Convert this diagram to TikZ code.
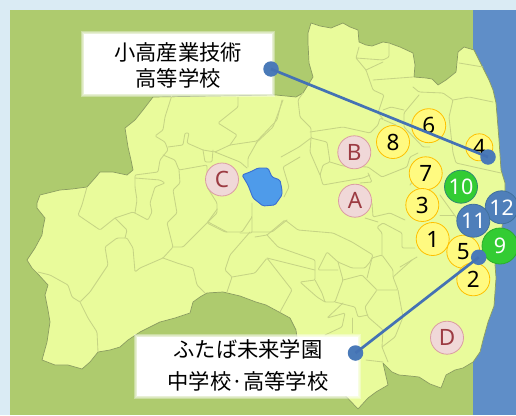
\documentclass[tikz,border=0pt]{standalone}
\usepackage{fontspec}
\setmainfont{Noto Sans}
\newfontfamily\cjkjp{Noto Sans CJK JP}
\definecolor{framec}{HTML}{DAEBF4}
\definecolor{hillc}{HTML}{AECB6E}
\definecolor{landc}{HTML}{E9FB9B}
\definecolor{borderc}{HTML}{C6D485}
\definecolor{coastc}{HTML}{8A9C60}
\definecolor{seac}{HTML}{5F8EC8}
\definecolor{lakec}{HTML}{4E9BEA}
\definecolor{lakeedge}{HTML}{3B6FD0}
\definecolor{yelf}{HTML}{FFFA80}
\definecolor{yele}{HTML}{FFC000}
\definecolor{pinkf}{HTML}{F0D8D8}
\definecolor{pinke}{HTML}{DB9CA3}
\definecolor{pinkt}{HTML}{9C3B42}
\definecolor{grnf}{HTML}{33CC33}
\definecolor{grne}{HTML}{2E8B6E}
\definecolor{bluf}{HTML}{4F7FBA}
\definecolor{blue2}{HTML}{41719C}
\definecolor{leadc}{HTML}{4472B4}
\definecolor{dotc}{HTML}{4A7AB8}
\tikzset{
  distb/.style={draw=borderc,line width=0.85pt,line join=round,line cap=round,rounded corners=1.2pt},
  yelc/.style={circle,draw=yele,fill=yelf,line width=0.8pt,inner sep=0pt,minimum size=33pt,font=\fontsize{22.5}{22.5}\selectfont,text=black},
  pinkc/.style={circle,draw=pinke,fill=pinkf,line width=0.8pt,inner sep=0pt,minimum size=33pt,font=\fontsize{22.5}{22.5}\selectfont,text=pinkt},
  grnc/.style={circle,draw=grne,fill=grnf,line width=0.8pt,inner sep=0pt,minimum size=33pt,font=\fontsize{21.5}{21.5}\selectfont,text=white},
  bluc/.style={circle,draw=blue2,fill=bluf,line width=0.8pt,inner sep=0pt,minimum size=33pt,font=\fontsize{21.5}{21.5}\selectfont,text=white},
  dotn/.style={circle,fill=dotc,inner sep=0pt,minimum size=15.5pt},
  leader/.style={draw=leadc,line width=2.7pt},
  labeltxt/.style={font=\cjkjp\fontsize{21.3}{26}\selectfont,text=black,align=center,inner sep=0pt},
  softbox/.style={fill=white,fill opacity=0.35}
}
\begin{document}
\begin{tikzpicture}[x=1pt,y=-1pt]
\path[use as bounding box] (0,0) rectangle (516,415);
\fill[framec] (0,0) rectangle (516,415);
\fill[hillc] (10,10) rectangle (474,415);
\fill[seac] (473,10) rectangle (516,415);
% land
\draw[fill=landc,draw=coastc,line width=0.7pt,line join=round]
 (42,360)--(55,365)--(68,365)--(82,369)--(90,362)--(98,352)--(110,350)--(120,347)--(128,340)--(140,332)--(150,327)--(160,322)--(175,318)--(190,313)--(193,302)--(200,297)--(207,293)--(223,292)--(240,296)--(256,302)--(266,305)--(279,312)--(290,318)--(296,330)--(298,345)--(340,390)--(358,409)--(368,398)--(376,392)--(388,385)--(383,363)--(392,372)--(399,375)--(410,376)--(419,377)--(430,384)--(441,388)--(446,375)--(455,370)--(463,368)--(473,362)--(480,352)--(483,340)--(488,322)--(494,306)--(496,278)--(495,265)--(500,245)--(505,200)--(505,183)--(501,170)--(499,140)--(496,103)--(493,90)--(489,80)--(483,68)--(478,58)--(474,50)--(464,47)--(458,52)--(457,62)--(456,72)--(446,80)--(438,85)--(432,79)--(426,78)--(414,77)--(415,65)--(413,53)--(400,47)--(389,43)--(383,42)--(372,46)--(366,45)--(359,42)--(358,30)--(350,27)--(343,23)--(331,28)--(320,26)--(311,23)--(308,33)--(308,43)--(309,63)--(313,77)--(303,93)--(296,97)--(276,95)--(153,97)--(143,110)--(135,120)--(125,128)--(128,147)--(131,160)--(133,170)--(127,175)--(113,172)--(100,172)--(95,178)--(87,187)--(72,189)--(60,190)--(48,193)--(40,195)--(37,203)--(37,208)--(45,218)--(43,228)--(42,235)--(35,248)--(27,260)--(32,268)--(37,273)--(48,285)--(45,295)--(48,310)--(50,322)--(47,342)--cycle;
% district borders
\path[distb] (172,95)--(165,117)--(163,130)--(155,136)--(165,142)--(168,150)--(160,160)--(158,172)--(135,175)--(135,187)--(137,200)--(135,213);
\path[distb] (168,147)--(183,145)--(185,133)--(189,133)--(187,143)--(203,150)--(215,152)--(230,145)--(257,141)--(277,120)--(282,100);
\path[distb] (238,97)--(238,107)--(218,123)--(237,135)--(230,145);
\path[distb] (215,152)--(240,162)--(247,168);
\path[distb] (203,150)--(205,162)--(212,162)--(213,150);
\path[distb] (257,142)--(248,158)--(248,167);
\path[distb] (163,155)--(175,160)--(179,170)--(207,165)--(207,187)--(217,203)--(217,213)--(207,223)--(225,232)--(242,232)--(252,217)--(252,203);
\path[distb] (179,170)--(180,183)--(173,190)--(177,213)--(167,223)--(173,247)--(163,258)--(140,268)--(135,272)--(133,248)--(127,238)--(117,238)--(105,247)--(108,265)--(100,277)--(90,292)--(80,302)--(72,297)--(68,285)--(50,275)--(38,272);
\path[distb] (135,178)--(160,180)--(165,183)--(155,187)--(150,203)--(152,212)--(148,220)--(133,212)--(115,218)--(100,230)--(78,215)--(82,205)--(87,187);
\path[distb] (115,218)--(127,230)--(125,238);
\path[distb] (163,258)--(177,263)--(193,268)--(197,285)--(205,293);
\path[distb] (173,247)--(183,247)--(208,222)--(218,208)--(207,223);
\path[distb] (208,222)--(227,232);
\path[distb] (252,217)--(252,233)--(240,233);
\path[distb] (250,232)--(230,255)--(225,270)--(232,277)--(227,292);
\path[distb] (232,277)--(255,273)--(267,258)--(292,290)--(280,312);
\path[distb] (252,232)--(272,232)--(287,220);
\path[distb] (80,302)--(88,318)--(97,332)--(98,352);
\path[distb] (255,237)--(267,235)--(285,220)--(298,230)--(333,233)--(352,242)--(373,255)--(370,262)--(365,268)--(352,268)--(338,262)--(327,252)--(318,270)--(338,270);
\path[distb] (267,235)--(278,247)--(315,260)--(315,280)--(300,282)--(317,297)--(325,302)--(335,302)--(343,280)--(338,262);
\path[distb] (315,280)--(322,293)--(325,302);
\path[distb] (267,258)--(275,260)--(315,270);
\path[distb] (343,280)--(362,275)--(377,290)--(365,307)--(368,317)--(383,330)--(382,347)--(388,362);
\path[distb] (335,302)--(355,307)--(358,317)--(368,315);
\path[distb] (377,290)--(398,290)--(393,277)--(412,260);
\path[distb] (367,278)--(372,258)--(382,255)--(393,270)--(393,277);
\path[distb] (382,255)--(382,233)--(377,227)--(383,223)--(402,233)--(402,248)--(415,248);
\path[distb] (378,222)--(365,218);
\path[distb] (398,290)--(403,317)--(395,337)--(382,347);
\path[distb] (343,303)--(327,318)--(338,315)--(345,313)--(342,327)--(325,335);
\path[distb] (352,318)--(352,333);
\path[distb] (383,362)--(366,360);
\path[distb] (303,93)--(298,100)--(300,117)--(311,128)--(311,138)--(327,142)--(330,162)--(323,165)--(320,175)--(323,185)--(340,182)--(363,178)--(370,175);
\path[distb] (310,132)--(343,127)--(370,133)--(378,125)--(380,118)--(384,120)--(378,113)--(384,95)--(373,90)--(366,70)--(356,58)--(359,47);
\path[distb] (311,138)--(310,152)--(320,175);
\path[distb] (330,162)--(343,166)--(368,167)--(382,177)--(407,167)--(410,157)--(418,153);
\path[distb] (368,173)--(372,182)--(360,183);
\path[distb] (372,203)--(373,217)--(390,213)--(405,220);
\path[distb] (256,143)--(273,127)--(283,100);
\path[distb] (281,157)--(299,147)--(311,138);
\path[distb] (300,157)--(283,167)--(289,187)--(284,197);
\path[distb] (356,58)--(383,60)--(389,57)--(389,43);
\path[distb] (366,70)--(383,62);
\path[distb] (373,80)--(413,77);
\path[distb] (413,87)--(419,92)--(443,93)--(453,100)--(449,117)--(453,153)--(456,163)--(501,173);
\path[distb] (419,95)--(404,113)--(404,127)--(423,147)--(430,147);
\path[distb] (453,100)--(469,97)--(493,102);
\path[distb] (459,63)--(483,67);
\path[distb] (404,110)--(391,107)--(383,110);
\path[distb] (384,120)--(396,125);
\path[distb] (440,195)--(458,220);
\path[distb] (440,215)--(455,215);
\path[distb] (400,267)--(417,257);
\path[distb] (410,185)--(420,172);
% lake
\draw[fill=lakec,draw=lakeedge,line width=0.9pt,line join=round,rounded corners=1.5pt]
 (242,175)--(250,172)--(258,168)--(268,168)--(272,177)--(280,180)--(282,190)--(282,195)--(275,205)--(263,206)--(253,198)--(248,185)--cycle;
% label boxes (soft edges)
\foreach \d in {0,1,2}{
  \path[softbox] (83-\d,33-\d) rectangle (273+\d,95+\d);
  \path[softbox] (136-\d,336-\d) rectangle (359+\d,397+\d);
}
\fill[white] (84,34) rectangle (272,94);
\fill[white] (137,337) rectangle (358,396);
\node[labeltxt] (schoolA) at (178,65) {小高産業技術\\[0pt]高等学校};
\node[labeltxt,font=\cjkjp\fontsize{21.3}{32}\selectfont] (schoolB) at (248,365) {ふたば未来学園\\中学校·高等学校};
% markers
\node[pinkc] (mC) at (222,179.5) {C};
\node[pinkc] (mB) at (354.3,152.3) {B};
\node[pinkc] (mA) at (355,200.7) {A};
\node[pinkc] (mD) at (447,337.7) {D};
\node[yelc] (m8) at (393,142) {8};
\node[yelc,minimum size=34pt] (m6) at (428.7,125.7) {6};
\node[yelc] (m7) at (425.7,173.3) {7};
\node[yelc] (m3) at (422.3,205) {3};
\node[yelc] (m1) at (432.7,239) {1};
\node[yelc,minimum size=27pt] (m4) at (479.3,147.3) {4};
\node[yelc] (m5) at (463.3,251.7) {5};
\node[yelc] (m2) at (473.3,279.3) {2};
\node[grnc] (m10) at (461,186.7) {10};
\node[bluc] (m12) at (501.7,207.3) {12};
\node[bluc] (m11) at (473.3,220.7) {11};
\node[grnc,minimum size=36pt,draw=grnf!85!black] (m9) at (500,246) {9};
% leaders
\node[dotn] (dotA) at (271,69) {};
\node[dotn] (endA) at (488,157) {};
\node[dotn] (dotB) at (355.5,353) {};
\node[dotn] (endB) at (478.7,257.3) {};
\draw[leader] (dotA.center) -- (endA.center);
\draw[leader] (dotB.center) -- (endB.center);
\end{tikzpicture}
\end{document}
